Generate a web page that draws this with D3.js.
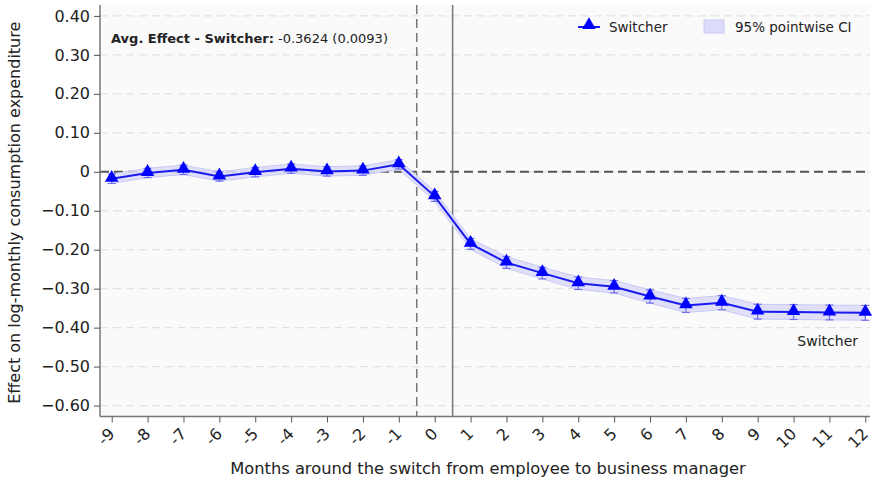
<!DOCTYPE html>
<html>
<head>
<meta charset="utf-8">
<script src="https://cdn.jsdelivr.net/npm/d3@7"></script>
<style>
  body { margin: 0; background: #fff; }
  text { font-family: "DejaVu Sans", sans-serif; fill: #222; }
</style>
</head>
<body>
<div id="chart"></div>
<script>
// data
const months = [-9, -8, -7, -6, -5, -4, -3, -2, -1, 0, 1, 2, 3, 4, 5, 6, 7, 8, 9, 10, 11, 12]
const effect = [-0.018, -0.003, 0.005, -0.012, -0.001, 0.008, 0.001, 0.003, 0.019, -0.063,
  -0.185, -0.233, -0.26, -0.286, -0.295, -0.32, -0.343, -0.336, -0.359, -0.36, -0.361, -0.362]
const ciHalf = [0.012, 0.012, 0.012, 0.012, 0.012, 0.012, 0.012, 0.012, 0.012, 0.013,
  0.014, 0.015, 0.015, 0.016, 0.016, 0.017, 0.018, 0.018, 0.019, 0.019, 0.019, 0.019]
const yTicks = [0.4, 0.3, 0.2, 0.1, 0, -0.1, -0.2, -0.3, -0.4, -0.5, -0.6]

const width = 872, height = 479
const mLeft = 100, mRight = 870, mTop = 5, mBottom = 416.5

const svg = d3.select("#chart").append("svg")
  .attr("width", width)
  .attr("height", height)

let x = d3.scaleLinear().domain([-9.326, 12.13]).range([mLeft, mRight])
let y = d3.scaleLinear().domain([-0.628, 0.428]).range([mBottom, mTop])

// plot background
svg.append("rect")
  .attr("x", mLeft).attr("y", mTop)
  .attr("width", mRight - mLeft).attr("height", mBottom - mTop)
  .style("fill", "#fafafa")

// horizontal grid
svg.selectAll(".grid")
  .data(yTicks)
  .enter()
  .append("line")
  .attr("x1", mLeft).attr("x2", mRight)
  .attr("y1", d => y(d)).attr("y2", d => y(d))
  .style("stroke", "#e2e2e2")
  .style("stroke-width", 1.3)
  .style("stroke-dasharray", "8,5")

// zero line
svg.append("line")
  .attr("x1", mLeft).attr("x2", mRight)
  .attr("y1", y(0)).attr("y2", y(0))
  .style("stroke", "#555")
  .style("stroke-width", 2)
  .style("stroke-dasharray", "9,5")

// treatment lines
svg.append("line")
  .attr("x1", x(-0.5)).attr("x2", x(-0.5))
  .attr("y1", mTop).attr("y2", mBottom)
  .style("stroke", "#777")
  .style("stroke-width", 1.5)
  .style("stroke-dasharray", "9,5")

svg.append("line")
  .attr("x1", x(0.5)).attr("x2", x(0.5))
  .attr("y1", mTop).attr("y2", mBottom)
  .style("stroke", "#777")
  .style("stroke-width", 1.5)

let pts = months.map((m, i) => ({ m: m, v: effect[i], lo: effect[i] - ciHalf[i], hi: effect[i] + ciHalf[i] }))

// CI band
let area = d3.area()
  .x(d => x(d.m))
  .y0(d => y(d.lo))
  .y1(d => y(d.hi))

svg.append("path")
  .datum(pts)
  .attr("d", area)
  .style("fill", "#dcdcfa")
  .style("fill-opacity", 0.9)
  .style("stroke", "#c9c9f5")
  .style("stroke-width", 1)

// error bars
let eb = svg.selectAll(".eb")
  .data(pts)
  .enter()
  .append("g")
  .style("stroke", "#6f6ff0")
  .style("stroke-width", 1.2)

eb.append("line")
  .attr("x1", d => x(d.m)).attr("x2", d => x(d.m))
  .attr("y1", d => y(d.lo)).attr("y2", d => y(d.hi))
eb.append("line")
  .attr("x1", d => x(d.m) - 4).attr("x2", d => x(d.m) + 4)
  .attr("y1", d => y(d.lo)).attr("y2", d => y(d.lo))
eb.append("line")
  .attr("x1", d => x(d.m) - 4).attr("x2", d => x(d.m) + 4)
  .attr("y1", d => y(d.hi)).attr("y2", d => y(d.hi))

// main line
let line = d3.line()
  .x(d => x(d.m))
  .y(d => y(d.v))

svg.append("path")
  .datum(pts)
  .attr("d", line)
  .style("fill", "none")
  .style("stroke", "#1a1aee")
  .style("stroke-width", 2)

let tri = d3.symbol().type(d3.symbolTriangle).size(80)

svg.selectAll(".mk")
  .data(pts)
  .enter()
  .append("path")
  .attr("d", tri)
  .attr("transform", d => "translate(" + x(d.m) + "," + (y(d.v) - 1) + ")")
  .style("fill", "#0000ff")

// axes
let yAxis = d3.axisLeft(y)
  .tickValues(yTicks)
  .tickSize(6)
  .tickPadding(4)
  .tickFormat(d => d === 0 ? "0" : d3.format(".2f")(d))

let gy = svg.append("g")
  .attr("transform", "translate(" + mLeft + ",0)")
  .call(yAxis)
gy.select(".domain").attr("d", "M0," + mTop + "V" + mBottom).style("stroke", "#777").style("stroke-width", 1.5)
gy.selectAll(".tick line").style("stroke", "#555")
gy.selectAll("text").style("font-size", "16px").style("font-family", "DejaVu Sans, sans-serif").style("fill", "#222")

let xAxis = d3.axisBottom(x)
  .tickValues(months)
  .tickSize(6)
  .tickFormat(d => d)

let gx = svg.append("g")
  .attr("transform", "translate(0," + mBottom + ")")
  .call(xAxis)
gx.select(".domain").attr("d", "M" + mLeft + ",0H" + mRight).style("stroke", "#777").style("stroke-width", 1.5)
gx.selectAll(".tick line").style("stroke", "#555")
gx.selectAll("text")
  .style("font-size", "16px")
  .style("font-family", "DejaVu Sans, sans-serif")
  .style("fill", "#222")
  .attr("text-anchor", "end")
  .attr("dy", "0.3em")
  .attr("y", 0)
  .attr("transform", "translate(0,15) rotate(-45)")

// axis titles
svg.append("text")
  .attr("x", 488).attr("y", 474)
  .attr("text-anchor", "middle")
  .style("font-size", "16.3px")
  .text("Months around the switch from employee to business manager")

svg.append("text")
  .attr("transform", "translate(20," + ((mTop + mBottom) / 2 + 2) + ") rotate(-90)")
  .attr("text-anchor", "middle")
  .style("font-size", "16px")
  .text("Effect on log-monthly consumption expenditure")

// annotation
let ann = svg.append("text")
  .attr("x", 111).attr("y", 43)
  .style("font-size", "13px")
ann.append("tspan").style("font-weight", "bold").text("Avg. Effect - Switcher:")
ann.append("tspan").text(" -0.3624 (0.0093)")

svg.append("text")
  .attr("x", 858).attr("y", 346)
  .attr("text-anchor", "end")
  .style("font-size", "14px")
  .text("Switcher")

// legend
svg.append("line")
  .attr("x1", 578).attr("x2", 600)
  .attr("y1", 27).attr("y2", 27)
  .style("stroke", "#1a1aee").style("stroke-width", 2)
svg.append("path")
  .attr("d", tri)
  .attr("transform", "translate(589,25)")
  .style("fill", "#0000ff")
svg.append("text")
  .attr("x", 609).attr("y", 32)
  .style("font-size", "13.5px")
  .text("Switcher")

svg.append("rect")
  .attr("x", 704).attr("y", 20)
  .attr("width", 20).attr("height", 13)
  .style("fill", "#dcdcfa")
  .style("stroke", "#c9c9f5")
svg.append("text")
  .attr("x", 735).attr("y", 32)
  .style("font-size", "13.5px")
  .text("95% pointwise CI")
</script>
</body>
</html>
